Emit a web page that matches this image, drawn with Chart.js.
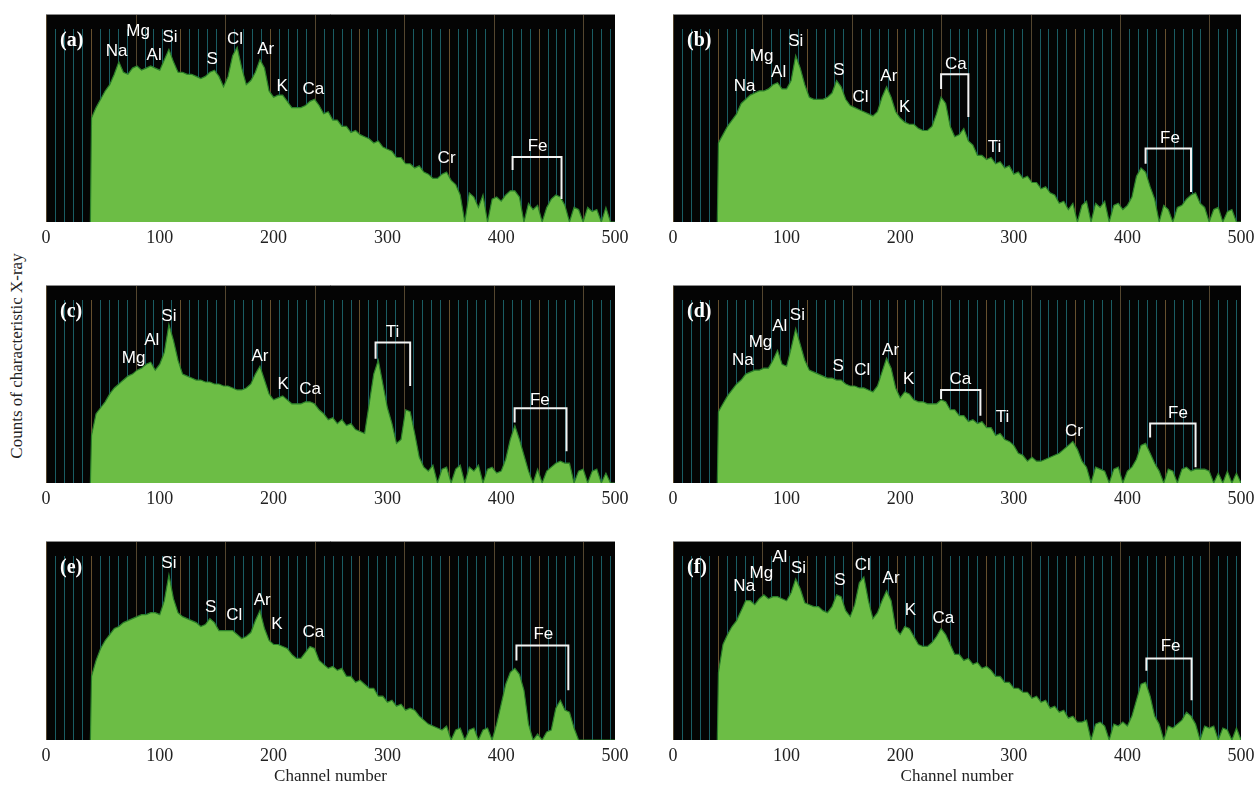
<!DOCTYPE html>
<html>
<head>
<meta charset="utf-8">
<script src="https://cdn.jsdelivr.net/npm/chart.js@4.4.0/dist/chart.umd.min.js"></script>
<style>
  body { margin: 0; background: #fff; width: 1258px; height: 786px; overflow: hidden; position: relative; }
  canvas { position: absolute; }
  #ytitle {
    position: absolute; left: 17px; top: 356px;
    transform: translate(-50%, -50%) rotate(-90deg);
    font: 17px "Liberation Serif", serif; color: #222; white-space: nowrap;
  }
</style>
</head>
<body>
<div id="ytitle">Counts of characteristic X-ray</div>
<canvas id="pa"></canvas>
<canvas id="pb"></canvas>
<canvas id="pc"></canvas>
<canvas id="pd"></canvas>
<canvas id="pe"></canvas>
<canvas id="pf"></canvas>
<script>
// channel positions: onset at 39, then every 4 channels up to 500
const channels = [39];
for (let c = 40; c <= 500; c += 4) channels.push(c);

// counts, in % of the panel height
const specA = [0,
  50, 55, 59, 63, 66, 71, 77, 72, 71, 74,
  75, 73, 74, 75, 74, 73, 78, 83, 77, 72,
  72, 71, 71, 70, 69, 70, 72, 73, 70, 65,
  70, 80, 84, 74, 66, 68, 72, 78, 74, 63,
  60, 61, 61, 58, 55, 55, 55, 56, 58, 59,
  56, 52, 53, 49, 49, 46, 46, 43, 44, 42,
  41, 40, 38, 39, 36, 35, 34, 31, 31, 28,
  28, 26, 27, 24, 23, 21, 21, 23, 24, 20,
  18, 13, 0, 14, 12, 7, 13, 0, 11, 12,
  10, 13, 15, 15, 12, 0, 9, 6, 8, 0,
  7, 11, 13, 12, 8, 0, 7, 6, 0, 7,
  5, 6, 0, 7, 0, 0];

const specB = [0,
  38, 42, 46, 49, 52, 57, 59, 61, 62, 63,
  63, 64, 66, 67, 64, 64, 68, 80, 74, 66,
  60, 59, 59, 59, 60, 62, 68, 65, 59, 56,
  55, 54, 53, 52, 51, 53, 60, 65, 60, 53,
  50, 48, 47, 47, 45, 44, 44, 46, 52, 60,
  57, 46, 41, 42, 45, 39, 37, 32, 32, 30,
  31, 28, 29, 26, 27, 23, 24, 21, 22, 19,
  19, 16, 17, 14, 13, 9, 10, 6, 9, 0,
  8, 10, 0, 9, 7, 10, 0, 8, 9, 6,
  8, 12, 22, 26, 24, 17, 11, 0, 8, 6,
  0, 7, 8, 11, 13, 14, 9, 7, 0, 6,
  7, 0, 5, 6, 0, 0];

const specC = [0,
  24, 35, 38, 41, 45, 48, 50, 52, 54, 55,
  57, 58, 60, 61, 57, 60, 66, 80, 72, 62,
  55, 54, 53, 52, 52, 51, 51, 50, 50, 49,
  49, 48, 47, 47, 48, 50, 55, 59, 52, 45,
  42, 43, 44, 42, 40, 40, 40, 41, 41, 40,
  37, 35, 32, 33, 30, 32, 29, 30, 27, 26,
  25, 40, 55, 62, 50, 38, 30, 20, 22, 37,
  36, 25, 13, 8, 6, 9, 0, 7, 8, 0,
  7, 9, 0, 8, 6, 9, 0, 7, 8, 5,
  6, 12, 22, 29, 22, 14, 6, 0, 7, 0,
  6, 8, 10, 11, 10, 10, 0, 6, 7, 0,
  6, 7, 0, 5, 0, 0];

const specD = [0,
  36, 40, 44, 47, 50, 52, 55, 56, 57, 57,
  58, 58, 62, 67, 60, 59, 68, 78, 70, 62,
  57, 56, 55, 54, 53, 53, 52, 52, 50, 49,
  49, 48, 48, 47, 46, 49, 56, 63, 58, 48,
  43, 46, 45, 42, 41, 41, 40, 40, 40, 42,
  41, 37, 37, 34, 34, 31, 32, 30, 31, 28,
  28, 24, 25, 22, 21, 19, 15, 14, 11, 13,
  11, 11, 12, 13, 14, 15, 17, 19, 21, 17,
  11, 8, 0, 8, 7, 6, 0, 7, 8, 0,
  6, 8, 12, 19, 20, 15, 10, 6, 0, 7,
  6, 0, 7, 8, 6, 7, 7, 7, 6, 0,
  5, 0, 6, 0, 5, 0];

const specE = [0,
  32, 40, 46, 50, 53, 56, 57, 59, 60, 61,
  62, 63, 63, 64, 64, 63, 70, 83, 71, 64,
  62, 61, 60, 59, 57, 58, 61, 59, 55, 55,
  55, 55, 53, 51, 52, 54, 60, 65, 56, 50,
  48, 48, 47, 46, 43, 41, 41, 44, 47, 46,
  40, 38, 36, 37, 35, 36, 32, 32, 29, 30,
  28, 26, 26, 22, 22, 19, 20, 17, 18, 15,
  16, 15, 12, 10, 8, 7, 6, 5, 7, 0,
  5, 6, 0, 5, 6, 0, 5, 6, 0, 8,
  18, 28, 34, 36, 33, 25, 8, 0, 3, 0,
  4, 5, 16, 20, 15, 14, 6, 0, 0, 0,
  0, 0, 0, 0, 0, 0];

const specF = [0,
  34, 48, 53, 57, 60, 65, 70, 70, 68, 71,
  73, 71, 72, 72, 71, 70, 74, 81, 76, 69,
  68, 67, 67, 65, 64, 67, 73, 72, 65, 62,
  68, 79, 82, 70, 61, 64, 70, 75, 70, 56,
  53, 57, 56, 52, 48, 47, 47, 49, 52, 56,
  53, 48, 43, 43, 40, 41, 38, 39, 36, 37,
  35, 32, 32, 29, 29, 26, 26, 24, 24, 21,
  22, 19, 20, 16, 17, 14, 15, 11, 12, 9,
  9, 10, 0, 8, 9, 7, 0, 8, 7, 9,
  7, 12, 20, 28, 29, 22, 12, 8, 0, 7,
  6, 8, 10, 14, 12, 8, 0, 7, 6, 7,
  0, 6, 5, 0, 6, 0];

const xTicks = [0, 100, 200, 300, 400, 500];

// element labels: [name, channel, height %]
const labelsA = [['Na', 62, 82], ['Mg', 81, 91.5], ['Al', 95, 80], ['Si', 109, 89], ['S', 146, 78],
  ['Cl', 166, 88], ['Ar', 193, 83], ['K', 207.5, 65], ['Ca', 235, 64], ['Cr', 352, 30.5], ['Fe', 432, 36.6]];
const labelsB = [['Na', 63, 65], ['Mg', 78, 79.5], ['Al', 93, 72], ['Si', 108, 86.7], ['S', 146, 73],
  ['Cl', 165, 60], ['Ar', 190, 70], ['K', 204, 55], ['Ca', 249, 76], ['Ti', 283, 36], ['Fe', 437.5, 40]];
const labelsC = [['Mg', 77, 63], ['Al', 93, 72], ['Si', 108, 84], ['Ar', 188, 64], ['K', 208.5, 50],
  ['Ca', 232, 47.5], ['Ti', 304.5, 76], ['Fe', 434, 42]];
const labelsD = [['Na', 61.4, 62], ['Mg', 77, 71], ['Al', 94, 79], ['Si', 109.5, 84.7], ['S', 145.4, 59],
  ['Cl', 166.7, 56.8], ['Ar', 191.5, 67], ['K', 207.5, 52.5], ['Ca', 253, 52.5], ['Ti', 290, 33],
  ['Cr', 353, 26], ['Fe', 444.5, 35]];
const labelsE = [['Si', 108, 88.7], ['S', 144.6, 66.6], ['Cl', 165.5, 62.6], ['Ar', 190, 70.4],
  ['K', 203, 58], ['Ca', 235, 54], ['Fe', 437, 53]];
const labelsF = [['Na', 62.7, 77], ['Mg', 77.8, 84], ['Al', 94, 92], ['Si', 110.5, 86.4], ['S', 147, 80],
  ['Cl', 167, 87.8], ['Ar', 192, 81], ['K', 209, 65], ['Ca', 238, 61.4], ['Fe', 438, 47]];

// peak brackets: [from channel, to channel, bar height %, left leg end %, right leg end %]
const bracketsA = [[410, 453, 31.3, 25, 11]];
const bracketsB = [[236, 260, 71, 64, 50.5], [416, 456, 35.3, 28, 14.4]];
const bracketsC = [[289.6, 320, 71, 62.7, 49], [411.8, 457.4, 37.8, 30.5, 16]];
const bracketsD = [[236, 270.6, 47, 42.4, 34], [420, 460, 30, 23, 8]];
const bracketsE = [[413.4, 459, 47.5, 40, 25]];
const bracketsF = [[416.7, 456.5, 41, 34.8, 20]];

const gridStep = 7.87; // analyser marker spacing in channels

const spectrumDecor = {
  id: 'spectrumDecor',
  beforeDatasetsDraw(chart, args, opts) {
    const { ctx, chartArea: { left, right, top, bottom }, scales: { x } } = chart;
    ctx.save();
    ctx.fillStyle = '#040404';
    ctx.fillRect(left, top, right - left, bottom - top);
    ctx.lineWidth = 1;
    for (let k = 0; k * gridStep <= 500; k++) {
      const px = Math.round(x.getPixelForValue(k * gridStep)) + 0.5;
      let color = '#1a5c63', y0 = top + 15;
      if (k % 10 === 0) { color = '#54462f'; y0 = top; }
      else if (k % 5 === 0) { color = '#66502e'; }
      ctx.strokeStyle = color;
      ctx.beginPath(); ctx.moveTo(px, y0); ctx.lineTo(px, bottom); ctx.stroke();
    }
    ctx.strokeStyle = '#8c8c8c';
    ctx.beginPath(); ctx.moveTo(left, top + 0.5); ctx.lineTo(right, top + 0.5); ctx.stroke();
    ctx.restore();
  },
  afterDatasetsDraw(chart, args, opts) {
    const { ctx, chartArea, scales: { x, y } } = chart;
    ctx.save();
    ctx.fillStyle = '#fff';
    ctx.strokeStyle = '#f4f4f4';
    ctx.lineWidth = 2;
    ctx.textAlign = 'center';
    ctx.textBaseline = 'middle';
    ctx.font = '17px "Liberation Sans Narrow", "Liberation Sans", Arial, sans-serif';
    opts.labels.forEach(([t, c, v]) => ctx.fillText(t, x.getPixelForValue(c), y.getPixelForValue(v)));
    opts.brackets.forEach(([c1, c2, vb, v1, v2]) => {
      const x1 = x.getPixelForValue(c1), x2 = x.getPixelForValue(c2);
      ctx.beginPath();
      ctx.moveTo(x1, y.getPixelForValue(v1));
      ctx.lineTo(x1, y.getPixelForValue(vb));
      ctx.lineTo(x2, y.getPixelForValue(vb));
      ctx.lineTo(x2, y.getPixelForValue(v2));
      ctx.stroke();
    });
    ctx.font = 'bold 20px "Liberation Serif", serif';
    ctx.textAlign = 'left';
    ctx.fillText(opts.letter, chartArea.left + 14, chartArea.top + 27);
    ctx.restore();
  }
};

Chart.defaults.font.family = '"Liberation Serif", serif';
Chart.defaults.color = '#222';

const panels = [
  { id: 'pa', letter: '(a)', spec: specA, labels: labelsA, brackets: bracketsA, box: [46, 615, 14, 222], title: false },
  { id: 'pb', letter: '(b)', spec: specB, labels: labelsB, brackets: bracketsB, box: [673, 1241, 14, 222], title: false },
  { id: 'pc', letter: '(c)', spec: specC, labels: labelsC, brackets: bracketsC, box: [46, 615, 285, 483], title: false },
  { id: 'pd', letter: '(d)', spec: specD, labels: labelsD, brackets: bracketsD, box: [673, 1241, 285, 483], title: false },
  { id: 'pe', letter: '(e)', spec: specE, labels: labelsE, brackets: bracketsE, box: [46, 615, 541, 740], title: true },
  { id: 'pf', letter: '(f)', spec: specF, labels: labelsF, brackets: bracketsF, box: [673, 1241, 541, 740], title: true }
];

const sidePad = 20;

panels.forEach(p => {
  const [L, R, T, B] = p.box;
  const axisH = p.title ? 51 : 30;
  const canvas = document.getElementById(p.id);
  canvas.width = R - L + 2 * sidePad;
  canvas.height = B - T + axisH;
  canvas.style.left = (L - sidePad) + 'px';
  canvas.style.top = T + 'px';

  new Chart(canvas, {
    type: 'line',
    data: {
      datasets: [{
        data: channels.map((c, i) => ({ x: c, y: p.spec[i] })),
        borderColor: '#2b7f2a',
        borderWidth: 1.2,
        backgroundColor: '#6cbd45',
        fill: 'origin',
        pointRadius: 0,
        tension: 0
      }]
    },
    options: {
      responsive: false,
      animation: false,
      devicePixelRatio: 1,
      layout: { padding: { left: sidePad, right: sidePad, top: 0, bottom: 0 } },
      plugins: {
        legend: { display: false },
        tooltip: { enabled: false },
        spectrumDecor: { letter: p.letter, labels: p.labels, brackets: p.brackets }
      },
      scales: {
        x: {
          type: 'linear',
          min: 0,
          max: 500,
          afterBuildTicks: axis => { axis.ticks = xTicks.map(v => ({ value: v })); },
          afterFit: axis => { axis.height = axisH; },
          grid: { display: false, drawTicks: false },
          border: { display: false },
          ticks: { padding: 5, font: { size: 18 }, color: '#222' },
          title: {
            display: p.title,
            text: 'Channel number',
            font: { size: 17 },
            color: '#222',
            padding: { top: 0, bottom: 4 }
          }
        },
        y: { display: false, min: 0, max: 100 }
      }
    },
    plugins: [spectrumDecor]
  });
});
</script>
</body>
</html>
